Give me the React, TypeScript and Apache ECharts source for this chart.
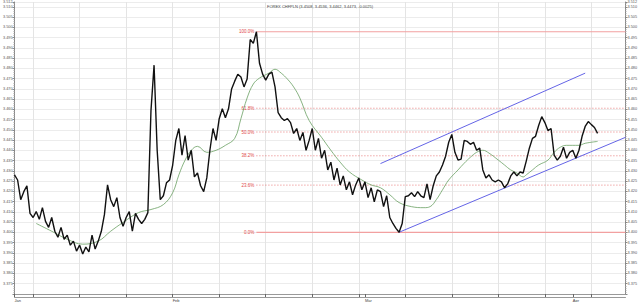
import React, { useEffect, useRef } from 'react';
import * as echarts from 'echarts';

const TITLE = 'FOREX CHFPLN (3.4508, 3.4536, 3.4462, 3.4473, -0.0025)';

const PRICE = [
  3.4281, 3.4256, 3.4160, 3.4199, 3.4228, 3.4093, 3.4073, 3.4102, 3.4064, 3.4121,
  3.4054, 3.4025, 3.4073, 3.4006, 3.3977, 3.4025, 3.3967, 3.3987, 3.3938, 3.3958,
  3.3909, 3.3938, 3.3895, 3.3929, 3.3905, 3.3987, 3.3919, 3.3958, 3.4006, 3.4088,
  3.4232, 3.4160, 3.4126, 3.4170, 3.4073, 3.4030, 3.4073, 3.4102, 3.4006, 3.4093,
  3.4064, 3.4044, 3.4064, 3.4097, 3.4594, 3.4816, 3.4401, 3.4160, 3.4179, 3.4242,
  3.4256, 3.4329, 3.4449, 3.4507, 3.4377, 3.4473, 3.4353, 3.4401, 3.4271, 3.4290,
  3.4228, 3.4199, 3.4266, 3.4401, 3.4507, 3.4449, 3.4555, 3.4603, 3.4560, 3.4603,
  3.4700, 3.4738, 3.4772, 3.4758, 3.4710, 3.4748, 3.4941, 3.4922, 3.4979, 3.4825,
  3.4772, 3.4743, 3.4772, 3.4782, 3.4710, 3.4584, 3.4560, 3.4546, 3.4555, 3.4536,
  3.4483, 3.4507, 3.4449, 3.4488, 3.4401, 3.4449, 3.4507, 3.4401, 3.4459, 3.4362,
  3.4401, 3.4305, 3.4343, 3.4256, 3.4314, 3.4232, 3.4276, 3.4208, 3.4247, 3.4184,
  3.4232, 3.4266, 3.4208, 3.4247, 3.4170, 3.4218, 3.4150, 3.4208, 3.4199, 3.4126,
  3.4179, 3.4073, 3.4044, 3.4020, 3.4001, 3.4044, 3.4175, 3.4179, 3.4194, 3.4175,
  3.4199, 3.4179, 3.4170, 3.4237, 3.4160, 3.4228, 3.4276, 3.4295, 3.4329, 3.4372,
  3.4440, 3.4478, 3.4391, 3.4353, 3.4358, 3.4449, 3.4444, 3.4430, 3.4440, 3.4401,
  3.4411, 3.4305, 3.4266, 3.4281, 3.4256, 3.4247, 3.4256, 3.4247, 3.4218, 3.4237,
  3.4276, 3.4295, 3.4276, 3.4295, 3.4290, 3.4348, 3.4411, 3.4459, 3.4469, 3.4522,
  3.4565, 3.4536, 3.4497, 3.4507, 3.4377, 3.4353, 3.4372, 3.4416, 3.4362, 3.4391,
  3.4401, 3.4362, 3.4401, 3.4469, 3.4517, 3.4541, 3.4526, 3.4512, 3.4483,
];

const MA_INDEX = [
  7, 12, 17, 22, 27, 31, 35, 40, 44, 48, 51, 53, 55, 57, 59, 62, 65, 68, 71, 73,
  75, 77, 79, 82, 84, 86, 88, 90, 92, 95, 99, 102, 105, 108, 112, 115, 118, 121, 124, 128,
  132, 134, 136, 138, 140, 143, 145, 147, 149, 151, 153, 156, 158, 160, 162, 164, 165, 167, 169, 172,
  174, 176, 178, 182, 184, 188,
];
const MA_VALUE = [
  3.4044, 3.4006, 3.3967, 3.3943, 3.3958, 3.4006, 3.4049, 3.4097, 3.4112, 3.4136,
  3.4194, 3.4281, 3.4353, 3.4401, 3.4420, 3.4391, 3.4401, 3.4425, 3.4459, 3.4555,
  3.4656, 3.4724, 3.4753, 3.4777, 3.4796, 3.4777, 3.4748, 3.4710, 3.4656, 3.4546,
  3.4464, 3.4401, 3.4343, 3.4295, 3.4256, 3.4232, 3.4218, 3.4184, 3.4146, 3.4126,
  3.4121, 3.4126, 3.4160, 3.4208, 3.4256, 3.4305, 3.4338, 3.4367, 3.4391, 3.4401,
  3.4387, 3.4353, 3.4329, 3.4305, 3.4290, 3.4271, 3.4281, 3.4305, 3.4329, 3.4353,
  3.4391, 3.4416, 3.4425, 3.4425, 3.4435, 3.4444,
];

const CATEGORY_COUNT = 198;
const TICK_INDEX = [6, 21, 36, 51, 66, 81, 96, 111, 126, 141, 156, 171, 186];
const MONTH_INDEX = [0, 51, 113, 180];
const MONTH_LABELS = ['Jan', 'Feb', 'Mar', 'Apr'];

const FIB_START = 78;
const FIB_LEVELS = [3.4979, 3.4606, 3.4490, 3.4374, 3.4231, 3.4001];
const FIB_LABELS = ['100.0%', '61.8%', '50.0%', '38.2%', '23.6%', '0.0%'];

const CHANNEL_LOWER_X = [124, 197];
const CHANNEL_LOWER_Y = [3.4001, 3.4464];
const CHANNEL_UPPER_X = [118, 184];
const CHANNEL_UPPER_Y = [3.4336, 3.4777];

const Y_MIN = 3.37;
const Y_MAX = 3.5124;
const Y_STEP = 0.005;

export default function App() {
  const ref = useRef<HTMLDivElement>(null);
  useEffect(() => {
    if (!ref.current) return;
    document.body.style.margin = '0';
    const chart = echarts.init(ref.current, undefined, { renderer: 'svg' });
    const categories: string[] = [];
    for (let i = 0; i < CATEGORY_COUNT; i++) {
      const m = MONTH_INDEX.indexOf(i);
      categories.push(m >= 0 ? MONTH_LABELS[m] : '');
    }
    const tickSet = new Set(TICK_INDEX);
    const monthSet = new Set(MONTH_INDEX);
    const font = 'Liberation Sans, Arial, sans-serif';

    const fibSeries = FIB_LEVELS.map((lv, k) => {
      const solid = k === 0 || k === FIB_LEVELS.length - 1;
      return {
        type: 'line',
        xAxisIndex: 0,
        yAxisIndex: 0,
        symbol: 'circle',
        symbolSize: 0.1,
        showSymbol: true,
        silent: true,
        itemStyle: { color: 'transparent' },
        lineStyle: solid
          ? { color: '#f2a0a0', width: 1.2, type: 'solid' }
          : { color: '#e25a5a', width: 0.8, type: [1, 2] },
        data: [
          {
            value: [FIB_START, lv],
            label: {
              show: true,
              position: 'left',
              distance: 2,
              formatter: FIB_LABELS[k],
              color: '#e04848',
              fontSize: 4.5,
              fontFamily: font,
            },
          },
          { value: [CATEGORY_COUNT - 1, lv] },
        ],
        z: 2,
      };
    });

    const option: any = {
      animation: false,
      backgroundColor: '#ffffff',
      title: {
        text: TITLE,
        left: 262,
        top: -1,
        textStyle: { fontSize: 4, fontWeight: 'normal', color: '#444', fontFamily: font },
      },
      grid: { left: 13, right: 14, top: 0, bottom: 7.5, containLabel: false },
      xAxis: [
        {
          type: 'category',
          data: categories,
          boundaryGap: false,
          axisLine: { show: true, lineStyle: { color: '#999', width: 1 } },
          axisTick: {
            show: true,
            length: 3,
            interval: (i: number) => tickSet.has(i) || monthSet.has(i),
            lineStyle: { color: '#666', width: 1 },
          },
          axisLabel: {
            show: true,
            interval: (i: number) => monthSet.has(i),
            fontSize: 4,
            fontFamily: font,
            color: '#444',
            align: 'left',
            margin: 4,
          },
          splitLine: {
            show: true,
            interval: (i: number) => tickSet.has(i),
            lineStyle: { color: '#e4e4e4', width: 1 },
          },
        },
        {
          type: 'category',
          data: categories,
          boundaryGap: false,
          position: 'bottom',
          offset: 3,
          axisLine: { show: true, lineStyle: { color: '#999', width: 1 } },
          axisTick: { show: false },
          axisLabel: { show: false },
          splitLine: { show: false },
        },
      ],
      yAxis: [
        {
          type: 'value',
          position: 'left',
          min: Y_MIN,
          max: Y_MAX,
          interval: Y_STEP,
          axisLine: { show: true, lineStyle: { color: '#888' } },
          axisTick: { show: true, length: 2, lineStyle: { color: '#888' } },
          minorTick: { show: true, splitNumber: 5, length: 1, lineStyle: { color: '#aaa' } },
          axisLabel: {
            showMinLabel: false,
            fontSize: 3.8,
            fontFamily: font,
            color: '#555',
            margin: 2,
            formatter: (v: number) => v.toFixed(3),
          },
          splitLine: { show: true, lineStyle: { color: '#ececec', width: 1 } },
        },
        {
          type: 'value',
          position: 'right',
          min: Y_MIN,
          max: Y_MAX,
          interval: Y_STEP,
          axisLine: { show: true, lineStyle: { color: '#888' } },
          axisTick: { show: true, length: 2, lineStyle: { color: '#888' } },
          minorTick: { show: true, splitNumber: 5, length: 1, lineStyle: { color: '#aaa' } },
          axisLabel: {
            showMinLabel: false,
            fontSize: 3.8,
            fontFamily: font,
            color: '#555',
            margin: 2,
            formatter: (v: number) => v.toFixed(3),
          },
          splitLine: { show: false },
        },
      ],
      series: [
        ...fibSeries,
        {
          type: 'line',
          name: 'upper',
          symbol: 'none',
          silent: true,
          lineStyle: { color: '#6464e6', width: 1 },
          data: CHANNEL_UPPER_X.map((x, k) => [x, CHANNEL_UPPER_Y[k]]),
          z: 3,
        },
        {
          type: 'line',
          name: 'lower',
          symbol: 'none',
          silent: true,
          lineStyle: { color: '#6464e6', width: 1 },
          data: CHANNEL_LOWER_X.map((x, k) => [x, CHANNEL_LOWER_Y[k]]),
          z: 3,
        },
        {
          type: 'line',
          name: 'MA',
          symbol: 'none',
          smooth: 0.4,
          silent: true,
          lineStyle: { color: '#6a9f62', width: 0.8 },
          data: MA_INDEX.map((x, k) => [x, MA_VALUE[k]]),
          z: 4,
        },
        {
          type: 'line',
          name: 'CHFPLN',
          symbol: 'none',
          silent: true,
          lineStyle: { color: '#111', width: 1.4 },
          data: PRICE.map((v, i) => [i, v]),
          z: 5,
        },
      ],
    };
    chart.setOption(option);
    return () => chart.dispose();
  }, []);
  return (
    <div
      ref={ref}
      style={{ width: 640, height: 302, position: 'absolute', left: 0, top: 0 }}
    />
  );
}
